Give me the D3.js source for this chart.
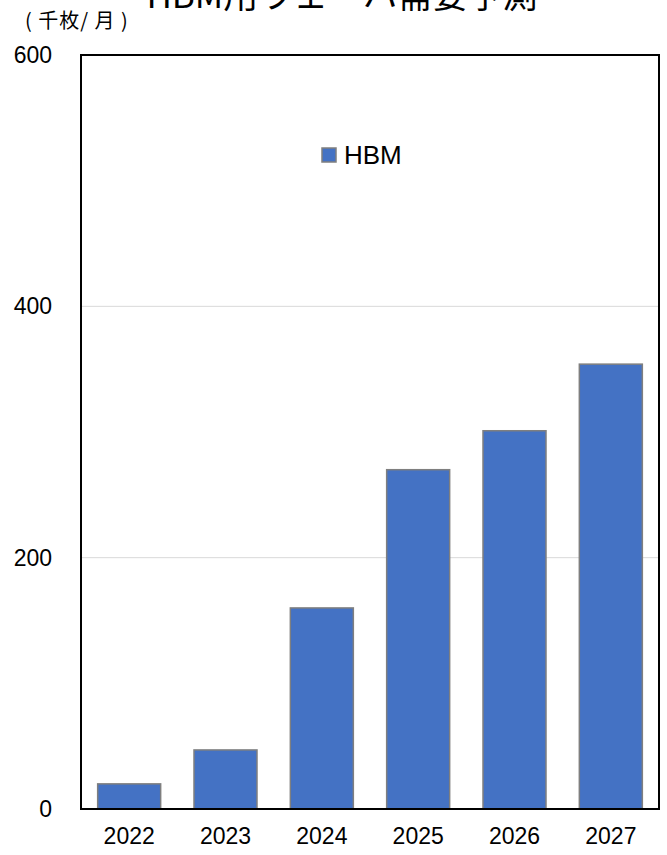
<!DOCTYPE html>
<html>
<head>
<meta charset="utf-8">
<script src="https://cdn.jsdelivr.net/npm/d3@7"></script>
<style>
  html, body { margin: 0; padding: 0; background: #fff; }
  svg { display: block; }
</style>
</head>
<body>
<svg id="chart" width="667" height="855"></svg>
<script>
// HBM wafer demand forecast (thousand wafers / month)
const years = ["2022", "2023", "2024", "2025", "2026", "2027"];
const hbmDemand = [20, 47, 160, 270, 301, 354];
const yTicks = [0, 200, 400, 600];
const seriesName = "HBM";
const titleText = "HBM用ウェーハ需要予測";
const unitText = "( 千枚/ 月 )";

const svg = d3.select("#chart");
const plot = { left: 81, right: 659, top: 55, bottom: 809 };

const x = d3.scaleBand()
  .domain(years)
  .range([plot.left, plot.right])
  .paddingInner(0.346)
  .paddingOuter(0.173);

const y = d3.scaleLinear()
  .domain([0, 600])
  .range([plot.bottom, plot.top]);

const latin = "Arial, 'Liberation Sans', sans-serif";
const cjk = "'Noto Sans CJK JP', 'Liberation Sans', sans-serif";

// gridlines
svg.append("g")
  .selectAll("line")
  .data(yTicks.filter(t => t > 0 && t < 600))
  .join("line")
  .attr("x1", plot.left).attr("x2", plot.right)
  .attr("y1", d => y(d)).attr("y2", d => y(d))
  .attr("stroke", "#d9d9d9")
  .attr("stroke-width", 1);

// bars
svg.append("g")
  .selectAll("rect")
  .data(years.map((yr, i) => ({ yr, v: hbmDemand[i] })))
  .join("rect")
  .attr("x", d => x(d.yr))
  .attr("width", x.bandwidth())
  .attr("y", d => y(d.v))
  .attr("height", d => y(0) - y(d.v))
  .attr("fill", "#4472c4")
  .attr("stroke", "#7f7f7f")
  .attr("stroke-width", 1.5);

// plot frame
svg.append("rect")
  .attr("x", plot.left).attr("y", plot.top)
  .attr("width", plot.right - plot.left)
  .attr("height", plot.bottom - plot.top)
  .attr("fill", "none")
  .attr("stroke", "#000")
  .attr("stroke-width", 2);

// y axis labels
const yAxis = d3.axisLeft(y).tickValues(yTicks).tickSize(0).tickPadding(0);
const yg = svg.append("g")
  .attr("transform", `translate(${plot.left - 29},0)`)
  .call(yAxis);
yg.select(".domain").remove();
yg.selectAll("text")
  .attr("font-family", latin)
  .attr("font-size", 23)
  .attr("fill", "#000");

// x axis labels
const xAxis = d3.axisBottom(x).tickSize(0).tickPadding(0);
const xg = svg.append("g")
  .attr("transform", `translate(0,${plot.bottom + 19})`)
  .call(xAxis);
xg.select(".domain").remove();
xg.selectAll("text")
  .attr("font-family", latin)
  .attr("font-size", 23)
  .attr("fill", "#000");

// title (runs off the top edge of the page)
svg.append("text")
  .attr("x", 342).attr("y", 8)
  .attr("text-anchor", "middle")
  .attr("font-family", cjk)
  .attr("font-size", 35)
  .attr("fill", "#000")
  .text(titleText);

// unit label
svg.append("text")
  .attr("x", 25).attr("y", 28)
  .attr("font-family", cjk)
  .attr("font-size", 20)
  .attr("letter-spacing", 1)
  .attr("fill", "#000")
  .text(unitText);

// legend
const lg = svg.append("g").attr("transform", "translate(322,148)");
lg.append("rect")
  .attr("x", 0).attr("y", 0)
  .attr("width", 14).attr("height", 14)
  .attr("fill", "#4472c4")
  .attr("stroke", "#7f7f7f")
  .attr("stroke-width", 1.5);
lg.append("text")
  .attr("x", 22).attr("y", 16)
  .attr("font-family", latin)
  .attr("font-size", 26)
  .attr("fill", "#000")
  .text(seriesName);
</script>
</body>
</html>
